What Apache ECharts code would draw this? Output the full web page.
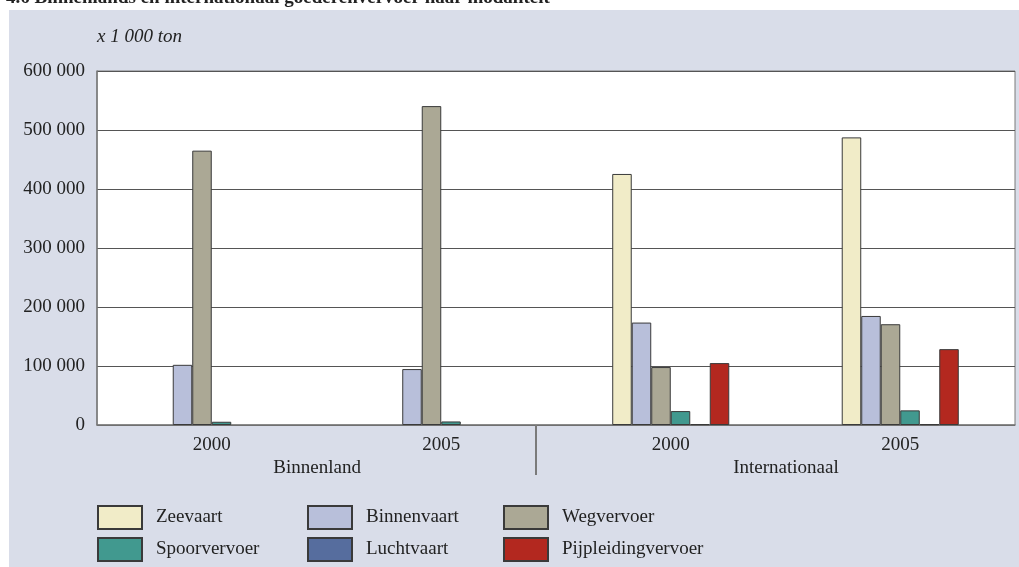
<!DOCTYPE html>
<html>
<head>
<meta charset="utf-8">
<script src="https://cdn.jsdelivr.net/npm/echarts@6/dist/echarts.min.js"></script>
<style>
html,body{margin:0;padding:0;background:#ffffff;}
#bg{position:absolute;left:9px;top:10px;width:1010px;height:557px;background:#d9dde9;}
#chart{position:absolute;left:0;top:0;width:1019px;height:567px;}
</style>
</head>
<body>
<div id="bg"></div>
<div id="chart"></div>
<script>
// Data
const titleText = '4.6 Binnenlands en internationaal goederenvervoer naar modaliteit';
const unitLabel = 'x 1 000 ton';
const years = ['2000', '2005', '2000', '2005'];
const groups = ['Binnenland', 'Internationaal'];
const seriesNames = ['Zeevaart', 'Binnenvaart', 'Wegvervoer', 'Spoorvervoer', 'Luchtvaart', 'Pijpleidingvervoer'];
const zeevaart = ['-', '-', 425500, 487500];
const binnenvaart = [102000, 94800, 173600, 184800];
const wegvervoer = [465000, 540500, 98200, 170800];
const spoorvervoer = [5500, 6000, 23600, 24800];
const luchtvaart = ['-', '-', 1500, 1500];
const pijpleidingvervoer = ['-', '-', 104900, 128600];
const yTicks = [0, 100000, 200000, 300000, 400000, 500000, 600000];

const values = [zeevaart, binnenvaart, wegvervoer, spoorvervoer, luchtvaart, pijpleidingvervoer];
const colors = ['#f1ecc8', '#b8bfda', '#aba895', '#41998f', '#566d9e', '#b3281f'];

const FONT = 'Liberation Serif';
const FS = 19;
const chart = echarts.init(document.getElementById('chart'));

function fmt(v) {
  return String(v).replace(/\B(?=(\d{3})+(?!\d))/g, ' ');
}

const series = seriesNames.map((n, i) => ({
  name: n,
  type: 'bar',
  xAxisIndex: 0,
  yAxisIndex: 0,
  data: values[i],
  barGap: '0%',
  barCategoryGap: '49%',
  itemStyle: { color: colors[i], borderColor: '#3a3a3a', borderWidth: 1 },
  emphasis: { disabled: true },
  animation: false
}));

const legendCommon = {
  orient: 'vertical',
  padding: 0,
  itemWidth: 44,
  itemHeight: 23,
  itemGap: 7,
  icon: 'rect',
  textStyle: { fontFamily: FONT, fontSize: FS, color: '#222', padding: [6, 0, 0, 9] },
  selectedMode: false
};

chart.setOption({
  animation: false,
  textStyle: { fontFamily: FONT },
  title: {
    text: titleText,
    left: 1,
    top: -16,
    textStyle: { fontFamily: FONT, fontSize: FS, fontWeight: 'bold', color: '#222' }
  },
  grid: {
    left: 97, right: 4, top: 71, bottom: 142,
    show: true, backgroundColor: '#ffffff', borderColor: '#7a7a7a', borderWidth: 1
  },
  legend: [
    Object.assign({ left: 97, top: 505, data: [seriesNames[0], seriesNames[3]] }, legendCommon),
    Object.assign({ left: 307, top: 505, data: [seriesNames[1], seriesNames[4]] }, legendCommon),
    Object.assign({ left: 503, top: 505, data: [seriesNames[2], seriesNames[5]] }, legendCommon)
  ],
  xAxis: [
    {
      type: 'category',
      data: years,
      axisLine: { show: true, lineStyle: { color: '#7a7a7a', width: 1.5 } },
      axisTick: { show: false },
      axisLabel: { fontFamily: FONT, fontSize: FS, color: '#222', margin: 11 }
    },
    {
      type: 'value',
      min: 0, max: 4,
      position: 'bottom',
      axisLine: { show: false },
      splitLine: { show: false },
      axisTick: { show: true, customValues: [1.913], length: 50, lineStyle: { color: '#7a7a7a', width: 2 } },
      axisLabel: {
        customValues: [0.959, 3.002],
        formatter: v => (v < 2 ? groups[0] : groups[1]),
        fontFamily: FONT, fontSize: FS, color: '#222', margin: 34
      }
    }
  ],
  yAxis: {
    type: 'value',
    min: yTicks[0],
    max: yTicks[yTicks.length - 1],
    interval: 100000,
    name: unitLabel,
    nameLocation: 'end',
    nameGap: 25,
    nameTextStyle: { fontFamily: FONT, fontSize: FS, fontStyle: 'italic', color: '#222', align: 'left' },
    axisLine: { show: true, lineStyle: { color: '#7a7a7a', width: 1.5 } },
    axisTick: { show: false },
    splitLine: { show: true, lineStyle: { color: '#555', width: 1.2 } },
    axisLabel: { fontFamily: FONT, fontSize: FS, color: '#222', margin: 12, formatter: fmt }
  },
  series: series
});
</script>
</body>
</html>
